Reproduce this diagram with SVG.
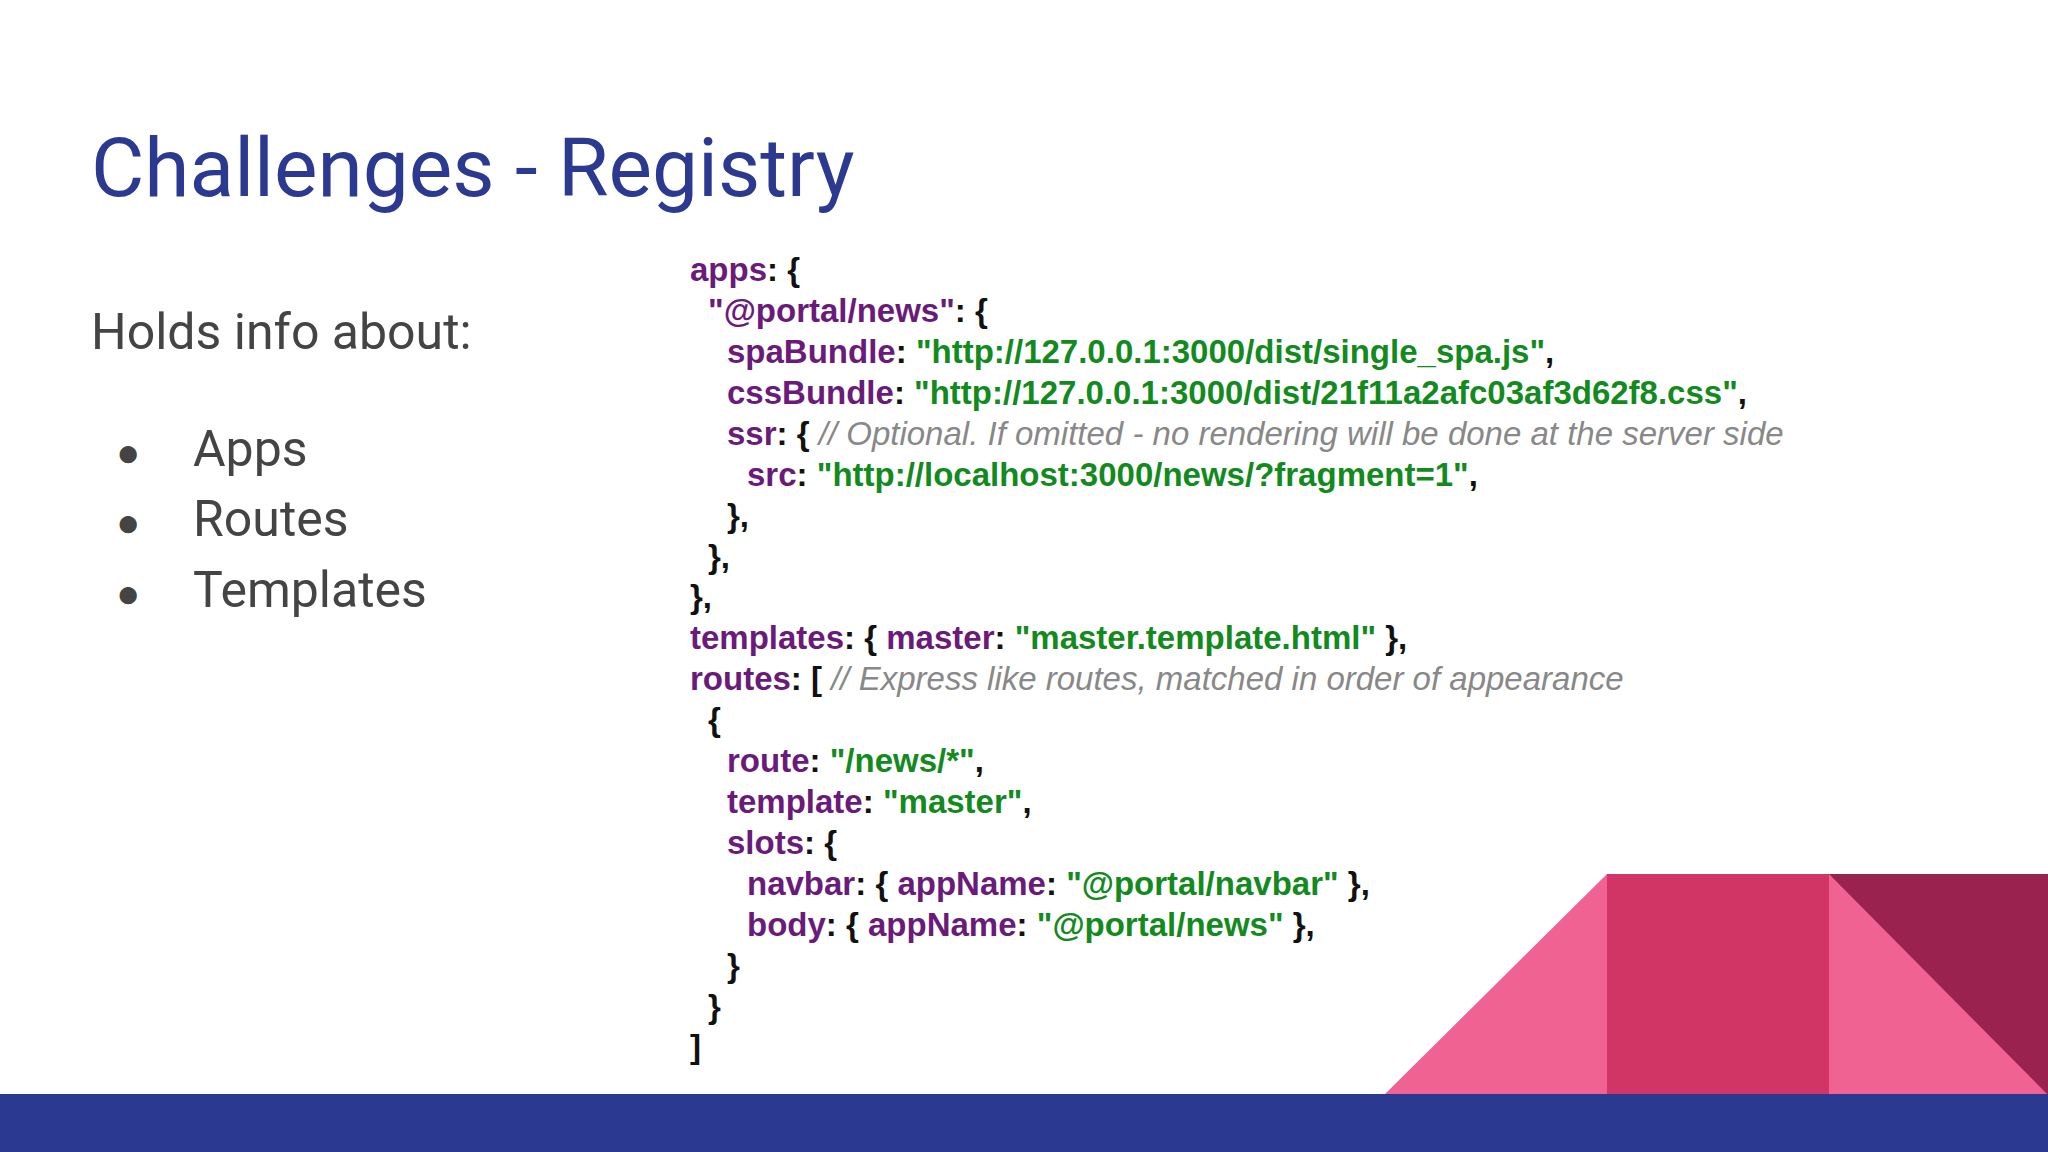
<svg xmlns="http://www.w3.org/2000/svg" width="2048" height="1152" viewBox="0 0 2048 1152">
<style>
.t{font-family:Roboto,"Liberation Sans",sans-serif;fill:#444}
.c{font-family:"Liberation Sans",Arial,sans-serif;font-size:33px;font-weight:bold;fill:#111}
.k{fill:#6a1b7a}
.s{fill:#138a1e}
.m{fill:#888;font-style:italic;font-weight:normal}
</style>
<rect width="2048" height="1152" fill="#fff"/>
<g id="title"><text x="91" y="196" font-family="Roboto,'Liberation Sans',sans-serif" font-size="82" fill="#2b3990">Challenges - Registry</text></g>
<g id="list" class="t" font-size="50">
<text class="t" x="91" y="349" font-size="50">Holds info about:</text>
<text class="t" x="116" y="466" font-size="40">●</text><text class="t" x="193" y="466" font-size="50">Apps</text>
<text class="t" x="116" y="536" font-size="40">●</text><text class="t" x="193" y="536" font-size="50">Routes</text>
<text class="t" x="116" y="607" font-size="40">●</text><text class="t" x="193" y="607" font-size="50">Templates</text>
</g>
<g id="code" class="c">
<text class="c" x="690" y="281"><tspan class="k">apps</tspan>: {</text>
<text class="c" x="708" y="322"><tspan class="k">"@portal/news"</tspan>: {</text>
<text class="c" x="727" y="363"><tspan class="k">spaBundle</tspan>: <tspan class="s">"http://127.0.0.1:3000/dist/single_spa.js"</tspan>,</text>
<text class="c" x="727" y="404"><tspan class="k">cssBundle</tspan>: <tspan class="s">"http://127.0.0.1:3000/dist/21f11a2afc03af3d62f8.css"</tspan>,</text>
<text class="c" x="727" y="445"><tspan class="k">ssr</tspan>: { <tspan class="m">// Optional. If omitted - no rendering will be done at the server side</tspan></text>
<text class="c" x="747" y="486"><tspan class="k">src</tspan>: <tspan class="s">"http://localhost:3000/news/?fragment=1"</tspan>,</text>
<text class="c" x="727" y="527">},</text>
<text class="c" x="708" y="568">},</text>
<text class="c" x="690" y="608">},</text>
<text class="c" x="690" y="649"><tspan class="k">templates</tspan>: { <tspan class="k">master</tspan>: <tspan class="s">"master.template.html"</tspan> },</text>
<text class="c" x="690" y="690"><tspan class="k">routes</tspan>: [ <tspan class="m">// Express like routes, matched in order of appearance</tspan></text>
<text class="c" x="708" y="731">{</text>
<text class="c" x="727" y="772"><tspan class="k">route</tspan>: <tspan class="s">"/news/*"</tspan>,</text>
<text class="c" x="727" y="813"><tspan class="k">template</tspan>: <tspan class="s">"master"</tspan>,</text>
<text class="c" x="727" y="854"><tspan class="k">slots</tspan>: {</text>
<text class="c" x="747" y="895"><tspan class="k">navbar</tspan>: { <tspan class="k">appName</tspan>: <tspan class="s">"@portal/navbar"</tspan> },</text>
<text class="c" x="747" y="936"><tspan class="k">body</tspan>: { <tspan class="k">appName</tspan>: <tspan class="s">"@portal/news"</tspan> },</text>
<text class="c" x="727" y="977">}</text>
<text class="c" x="708" y="1018">}</text>
<text class="c" x="690" y="1058">]</text>
</g>
<g id="decor">
<polygon points="1384,1095 1607,874 1607,1095" fill="#f06292"/>
<rect x="1607" y="874" width="222" height="221" fill="#d03566"/>
<rect x="1829" y="874" width="219" height="221" fill="#f06292"/>
<polygon points="1829,874 2048,874 2048,1095" fill="#99224f"/>
<rect x="0" y="1094" width="2048" height="58" fill="#2b3990"/>
</g>
</svg>
